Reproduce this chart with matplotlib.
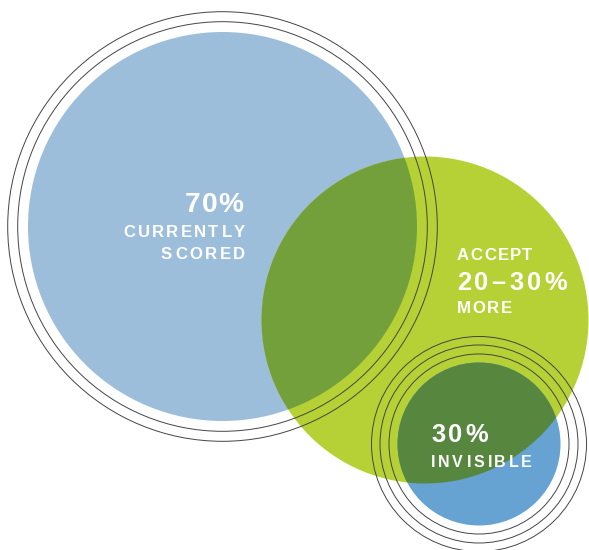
import numpy as np
import matplotlib
matplotlib.use('Agg')
import matplotlib.pyplot as plt
from matplotlib.patches import Circle
from matplotlib.textpath import TextPath
from matplotlib.font_manager import FontProperties

# circles: (cx, cy, r) in pixel units, rings radii
big = (222.5, 226.5, 194.5)
big_rings = [204.8, 214.8]
green = (425, 320, 163.5)
small = (479, 444, 81.5)
small_rings = [90, 99, 107.5]

c_big = '#9dbedb'
c_green = '#b5d135'
c_over = '#74a03c'
c_small = '#66a3d2'
c_over2 = '#57873f'
c_ring = '#444444'

# labels: text, left x, right x, baseline y, font px
labels = [
    ('70%', 185, 243, 212, 28),
    ('CURRENTLY', 123, 245, 237, 16.8),
    ('SCORED', 161, 245, 259, 16.8),
    ('ACCEPT', 457, 532, 260, 16.8),
    ('20\u201330%', 457, 567, 290, 25.5),
    ('MORE', 457, 512, 313, 16.8),
    ('30%', 431, 488, 442, 25.5),
    ('INVISIBLE', 431, 532, 467, 16),
]

fig = plt.figure(figsize=(5.89, 5.5), dpi=100)
ax = fig.add_axes([0, 0, 1, 1])
ax.set_xlim(0, 589)
ax.set_ylim(550, 0)
ax.axis('off')

def circ(c, color, z, clip=None):
    p = Circle((c[0], c[1]), c[2], facecolor=color, edgecolor='none', zorder=z)
    ax.add_patch(p)
    if clip is not None:
        p.set_clip_path(clip)
    return p

def rings(c, radii):
    for r in radii:
        ax.add_patch(Circle((c[0], c[1]), r, fill=False, edgecolor=c_ring,
                            linewidth=0.7, zorder=5))

pb = circ(big, c_big, 1)
pg = circ(green, c_green, 2)
circ(green, c_over, 3, clip=pb)
ps = circ(small, c_small, 2.5)
circ(green, c_over2, 3.5, clip=ps)
rings(big, big_rings)
rings(small, small_rings)

fp = FontProperties(family='Liberation Sans', weight='bold')
renderer = fig.canvas.get_renderer()

def place(texts, ws, x0, gap):
    x = x0
    for t, w in zip(texts, ws):
        t.set_x(x)
        x += w + gap

def spaced(s, x0, x1, y, px):
    # letter-spaced text, one text per char so the tracking matches
    ws = [TextPath((0, 0), ch, size=px, prop=fp).get_extents().width for ch in s]
    n = max(len(s) - 1, 1)
    gap = (x1 - x0 - sum(ws)) / n
    texts = [ax.text(0, y, ch, fontproperties=fp, fontsize=px * 0.72, color='white',
                     ha='left', va='baseline', zorder=6) for ch in s]
    start = x0
    for _ in range(3):
        place(texts, ws, start, gap)
        bbs = [t.get_window_extent(renderer) for t in texts]
        left = min(b.x0 for b in bbs)
        right = max(b.x1 for b in bbs)
        gap += ((x1 - x0) - (right - left)) / n
        start += x0 - left
    place(texts, ws, start, gap)

for s, x0, x1, y, px in labels:
    spaced(s, x0, x1, y, px)

fig.savefig('out.png', dpi=100)
